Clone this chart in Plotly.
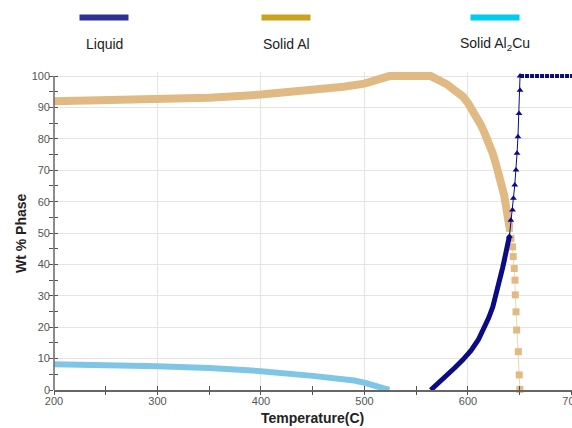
import plotly.graph_objects as go

# ---- data ----
# Solid Al, dense (band) part
al_T = [200, 250, 300, 350, 400, 450, 480, 500, 510, 520, 524, 564, 570, 575, 580, 585, 590, 595, 600, 603, 608, 612, 616, 620, 624, 627, 630, 632, 635, 638, 640]
al_v = [92.0, 92.2, 92.6, 93.1, 94.1, 95.5, 96.6, 97.6, 98.6, 99.6, 100, 100, 99.2, 98.3, 97.3, 96.0, 94.8, 93.5, 91.4, 90.0, 87.3, 84.7, 81.9, 79.0, 75.3, 72.0, 68.5, 66.5, 62.0, 56.0, 52.0]
# Solid Al, sparse (square markers) part
al2_T = [640, 641.5, 643.1, 643.7, 644.7, 645.4, 645.7, 646.4, 647, 648.6, 649.5, 650.2]
al2_v = [51.5, 48.3, 45.6, 42.5, 38.7, 35.0, 30.3, 24.9, 19.1, 12.2, 4.8, 0.2]

# Liquid, dense part
liq_T = [564, 570, 575, 580, 587, 595, 603, 610, 616, 620, 624, 627, 629, 631, 633.5, 635, 637, 639, 640]
liq_v = [0, 1.7, 3.2, 4.7, 7.0, 9.6, 12.6, 16.0, 19.8, 23.0, 26.5, 30.0, 32.8, 35.8, 39.0, 41.2, 43.8, 47.0, 49.0]
# Liquid, sparse (triangle markers) part
liq2_T = [640, 641.4, 643, 643.9, 645.2, 646.4, 647.4, 648.3, 649.3, 650.3, 650.3]
liq2_v = [49.0, 54.1, 57.3, 61.1, 65.3, 70.1, 75.4, 80.7, 88.1, 95.5, 100]
# Liquid plateau
liq3_T = [650.3, 700.5]
liq3_v = [100, 100]

# Solid Al2Cu
cu_T = [200, 250, 300, 350, 400, 450, 480, 490, 500, 510, 520, 524]
cu_v = [8.2, 8.0, 7.6, 7.0, 6.0, 4.5, 3.5, 3.0, 2.3, 1.4, 0.4, 0]

x_ticks = [200, 300, 400, 500, 600, 700]
y_ticks = [0, 10, 20, 30, 40, 50, 60, 70, 80, 90, 100]
y_minor = [5, 15, 25, 35, 45, 55, 65, 75, 85, 95]

legend_names = ["Liquid", "Solid Al", "Solid Al<sub>2</sub>Cu"]
legend_colors = ["#2E3192", "#C9A21E", "#00CCEE"]

NAVY = "#0B0B84"
TAN = "#E0BA82"
SKY = "#7FC6E6"

FONT = "Liberation Sans, Arial, sans-serif"

fig = go.Figure()

fig.add_trace(go.Scatter(x=cu_T, y=cu_v, mode="lines", line=dict(color=SKY, width=6),
                         hoverinfo="skip"))
fig.add_trace(go.Scatter(x=al_T, y=al_v, mode="lines", line=dict(color=TAN, width=8),
                         hoverinfo="skip"))
fig.add_trace(go.Scatter(x=al2_T, y=al2_v, mode="lines+markers", line=dict(color="#EBD6B4", width=1),
                         marker=dict(symbol="square", size=7, color=TAN), hoverinfo="skip",
                         cliponaxis=False))
fig.add_trace(go.Scatter(x=liq_T, y=liq_v, mode="lines", line=dict(color=NAVY, width=5),
                         hoverinfo="skip"))
fig.add_trace(go.Scatter(x=liq2_T, y=liq2_v, mode="lines+markers", line=dict(color=NAVY, width=1),
                         marker=dict(symbol="triangle-up", size=6, color=NAVY), hoverinfo="skip"))
fig.add_trace(go.Scatter(x=liq3_T, y=liq3_v, mode="lines", line=dict(color=NAVY, width=4, dash="4px,1px"),
                         hoverinfo="skip"))
# invisible trace to activate overlay axes (outer half of ticks)
fig.add_trace(go.Scatter(x=[300], y=[50], xaxis="x2", yaxis="y2", mode="markers",
                         marker=dict(opacity=0), showlegend=False, hoverinfo="skip"))

tickfont = dict(family=FONT, size=11, color="#555555")
titlefont = dict(family=FONT, size=14, color="#222222")

YTOP = 101.3
PX_PER_UNIT = 314 / 100
top_margin = 390 - YTOP * PX_PER_UNIT

fig.update_layout(
    width=572, height=428,
    margin=dict(l=54, r=0, t=top_margin, b=38, autoexpand=False),
    paper_bgcolor="white", plot_bgcolor="white",
    showlegend=False,
    xaxis=dict(range=[200, 700.5], tickvals=x_ticks, ticks="inside", ticklen=4, tickcolor="#555",
               minor=dict(dtick=50, ticks="inside", ticklen=4, tickcolor="#555", showgrid=False),
               showgrid=True, gridcolor="#E4E4E4", gridwidth=1, zeroline=False, automargin=False,
               ticklabeloverflow="allow",
               showline=True, linecolor="#666", linewidth=1.5, tickfont=tickfont),
    yaxis=dict(range=[0, YTOP], tickvals=y_ticks, ticks="inside", ticklen=4, tickcolor="#555",
               minor=dict(tickvals=y_minor, ticks="inside", ticklen=4, tickcolor="#555", showgrid=False),
               showgrid=True, gridcolor="#E4E4E4", gridwidth=1, zeroline=False, automargin=False,
               ticklabelstandoff=3,
               showline=False, tickfont=tickfont),
    xaxis2=dict(overlaying="x", matches="x", range=[200, 700.5], tickvals=x_ticks, ticks="outside",
                ticklen=4, tickcolor="#555", showticklabels=False, showgrid=False, zeroline=False,
                showline=False, automargin=False,
                minor=dict(dtick=50, ticks="outside", ticklen=4, tickcolor="#555")),
    yaxis2=dict(overlaying="y", matches="y", range=[0, YTOP], tickvals=y_ticks, ticks="outside",
                ticklen=4, tickcolor="#555", showticklabels=False, showgrid=False, zeroline=False,
                showline=False, automargin=False,
                minor=dict(tickvals=y_minor, ticks="outside", ticklen=4, tickcolor="#555")),
)

# y axis line from 0 to 100
fig.add_shape(type="line", xref="paper", yref="y", x0=0, x1=0, y0=0, y1=100,
              line=dict(color="#666", width=1.5), layer="above")

# axis titles
fig.add_annotation(text="<b>Temperature(C)</b>", xref="paper", yref="paper",
                   x=(312 - 54) / 518, y=-28 / (390 - top_margin), showarrow=False,
                   xanchor="center", yanchor="middle", font=titlefont)
fig.add_annotation(text="<b>Wt % Phase</b>", xref="paper", yref="y",
                   x=(21 - 54) / 518, y=50, showarrow=False, textangle=-90,
                   xanchor="center", yanchor="middle", font=titlefont)

# custom legend: swatch above label
plot_h = 390 - top_margin
centers = [104, 286, 495]
for name, col, cx in zip(legend_names, legend_colors, centers):
    xc = (cx - 54) / 518
    half = 24.5 / 518
    fig.add_shape(type="line", xref="paper", yref="paper", x0=xc - half, x1=xc + half,
                  y0=(390 - 17.5) / plot_h, y1=(390 - 17.5) / plot_h, line=dict(color=col, width=6))
    fig.add_annotation(text=name, xref="paper", yref="paper", x=xc, y=(390 - 44) / plot_h,
                       showarrow=False, xanchor="center", yanchor="middle",
                       font=dict(family=FONT, size=14, color="#222"))

fig.write_html("out.html", config={"displayModeBar": False},
               post_script="document.body.style.margin='0';document.body.style.overflow='hidden';")
